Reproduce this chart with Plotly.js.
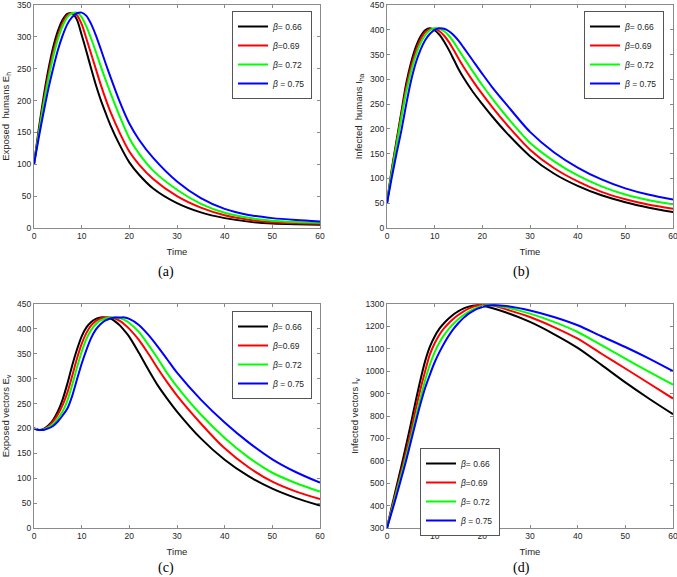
<!DOCTYPE html>
<html>
<head>
<meta charset="utf-8">
<script src="https://cdn.plot.ly/plotly-3.0.1.min.js"></script>
<style>
  html, body { margin: 0; padding: 0; background: #ffffff; }
  #chart { width: 677px; height: 577px; }
</style>
</head>
<body>
<div id="chart"></div>
<script>
// ---------- data ----------
const seriesLabels = ["<i>β</i>= 0.66", "<i>β</i>=0.69", "<i>β</i>= 0.72", "<i>β</i> = 0.75"];
const seriesColors = ["#000000", "#ff0000", "#00ff00", "#0000ff"];
const xTickVals = [0, 10, 20, 30, 40, 50, 60];

// (a) Exposed humans E_h
const tA = [0,1,2,3,4,5,6,7,8,9,10,11,12,13,14,15,16,18,20,22,25,30,35,40,45,50,55,60];
const ehA066 = [100,155,205,248,283,309,327,336,337,327,303,277,250,224,201,181,162,130,103,84,62,39,24.5,15.5,10,7,5.8,5.2];
const ehA069 = [100,150,198,240,275,302,322,334,338,334,320,297,273,249,225,203,183,149,120,100,77,50,32,20,13,9,7.5,6.7];
const ehA072 = [100,148,193,233,268,296,317,331,337,338,331,316,297,276,254,233,213,175,141,117,90,60,38,24,16,11.5,9.5,8.3];
const ehA075 = [100,142,181,218,250,279,302,320,331,337,338,333,320,302,281,259,238,198,164,139,110,73,47,30,20.5,15.5,12.5,10.3];

// (b) Infected humans I_ha
const tB = [0,1,2,3,4,5,6,7,8,9,10,11,12,13,14,15,16,18,20,22,25,30,35,40,45,50,55,60];
const ihB066 = [50,118,176,233,290,332,364,386,399,403,399,390,376,359,340,321,304,275,250,226,193,145,110,85,66,52,41,32];
const ihB069 = [50,115,172,228,282,324,356,380,395,401,402,397,388,375,359,342,326,297,270,245,210,158,121,94,73,58,47,39];
const ihB072 = [50,112,167,222,273,314,347,372,389,399,403,402,397,388,375,360,345,316,288,262,226,172,135,106,84,67.5,56,47.7];
const ihB075 = [50,102,150,196,248,295,332,359,379,392,400,403,402,397,389,378,365,338,311,285,250,194,153,122,98,80,67,57.6];

// (c) Exposed vectors E_v
const tC = [0,1,2,3,4,5,6,7,8,9,10,11,12,13,14,15,16,17,18,19,20,22,24,26,28,30,35,40,45,50,55,60];
const evC066 = [200,197,199,206,217,234,258,290,326,358,385,403,414,420,423,423,421,415,407,396,384,352,318,286,259,234,180,137,104,79,60,45];
const evC069 = [200,197,198,204,214,228,247,272,305,340,370,392,407,416,421,423,423,421,416,409,400,378,350,320,292,266,210,160,122,93,73,58];
const evC072 = [200,197,198,202,209,220,234,256,287,322,354,380,398,410,417,421,423,423,422,418,412,394,368,340,310,284,228,181,142,111,90,73];
const evC075 = [200,197,197,200,205,214,226,240,265,298,330,358,382,399,410,417,421,423,423,423,420,408,388,364,338,312,258,212,172,138,112,91];

// (d) Infected vectors I_v
const tD = [0,1,2,3,4,5,6,7,8,9,10,11,12,13,14,15,16,17,18,19,20,22,25,30,35,40,45,50,55,60];
const ivD066 = [300,395,485,575,668,765,865,960,1045,1110,1155,1190,1215,1236,1254,1268,1279,1287,1292,1294,1292,1282,1262,1220,1166,1104,1028,950,877,808];
const ivD069 = [300,388,470,553,640,730,828,918,1000,1075,1125,1163,1192,1215,1235,1252,1266,1278,1287,1293,1296,1294,1276,1242,1197,1145,1078,1012,945,878];
const ivD072 = [300,380,458,538,618,703,792,878,960,1030,1085,1128,1162,1190,1213,1233,1250,1264,1276,1285,1291,1296,1285,1257,1220,1175,1116,1056,997,940];
const ivD075 = [300,372,445,522,600,685,770,852,925,985,1040,1085,1125,1160,1190,1215,1237,1255,1268,1279,1287,1294,1291,1271,1242,1205,1156,1108,1056,1000];

// ---------- build traces ----------
const panels = [
  { t: tA, ys: [ehA066, ehA069, ehA072, ehA075], xa: "x",  ya: "y",  leg: "legend"  },
  { t: tB, ys: [ihB066, ihB069, ihB072, ihB075], xa: "x2", ya: "y2", leg: "legend2" },
  { t: tC, ys: [evC066, evC069, evC072, evC075], xa: "x3", ya: "y3", leg: "legend3" },
  { t: tD, ys: [ivD066, ivD069, ivD072, ivD075], xa: "x4", ya: "y4", leg: "legend4" }
];

const traces = [];
panels.forEach(p => {
  p.ys.forEach((y, i) => {
    traces.push({
      type: "scatter", mode: "lines",
      x: p.t, y: y,
      xaxis: p.xa, yaxis: p.ya,
      legend: p.leg,
      name: seriesLabels[i],
      line: { color: seriesColors[i], width: 2, shape: "spline", smoothing: 0.8 },
      hoverinfo: "skip"
    });
  });
});

// ---------- layout ----------
const W = 677, H = 577;
const font = "Arial, 'Liberation Sans', Helvetica, sans-serif";
const axColor = "#8a8a8a";

function xAx(x0, x1, anchor) {
  return {
    domain: [x0 / W, x1 / W], anchor: anchor,
    range: [0, 60], tickvals: xTickVals,
    showline: true, mirror: "ticks", linecolor: axColor, linewidth: 1,
    ticks: "inside", ticklen: 3, tickcolor: axColor,
    showgrid: false, zeroline: false, ticklabeloverflow: "allow",
    tickfont: { family: font, size: 8.5, color: "#262626" },
    title: { text: "Time", font: { family: font, size: 9.5, color: "#262626" }, standoff: 8 }
  };
}
function yAx(top, bottom, anchor, range, dtick, title) {
  return {
    domain: [1 - bottom / H, 1 - top / H], anchor: anchor,
    range: range, dtick: dtick, tick0: 0,
    showline: true, mirror: "ticks", linecolor: axColor, linewidth: 1,
    ticks: "inside", ticklen: 3, tickcolor: axColor,
    showgrid: false, zeroline: false, ticklabeloverflow: "allow",
    tickfont: { family: font, size: 8.5, color: "#262626" },
    title: { text: title, font: { family: font, size: 9.5, color: "#262626" }, standoff: 5 }
  };
}
function leg(xr, y, yanchor) {
  return {
    x: xr / W, y: y, xanchor: "right", yanchor: yanchor,
    bgcolor: "#ffffff", bordercolor: "#555555", borderwidth: 1,
    font: { family: font, size: 8.5, color: "#262626" },
    itemwidth: 30, tracegroupgap: 0
  };
}

const layout = {
  width: W, height: H,
  margin: { l: 0, r: 0, t: 0, b: 0 },
  paper_bgcolor: "#ffffff", plot_bgcolor: "#ffffff",
  showlegend: true,
  xaxis:  xAx(34, 320, "y"),
  yaxis:  yAx(5, 228, "x", [0, 350], 50, "Exposed\u00a0 humans E<sub>h</sub>"),
  xaxis2: xAx(387, 673, "y2"),
  yaxis2: yAx(5, 228, "x2", [0, 450], 50, "Infected\u00a0 humans I<sub>ha</sub>"),
  xaxis3: xAx(34, 320, "y3"),
  yaxis3: yAx(304, 528, "x3", [0, 450], 50, "Exposed vectors E<sub>v</sub>"),
  xaxis4: xAx(387, 673, "y4"),
  yaxis4: yAx(304, 528, "x4", [300, 1300], 100, "Infected vectors I<sub>v</sub>"),
  legend:  leg(312, 1 - 11 / H, "top"),
  legend2: leg(664, 1 - 11 / H, "top"),
  legend3: leg(312, 1 - 311 / H, "top"),
  legend4: leg(500, 1 - 492 / H, "middle"),
  annotations: [
    { text: "(a)", x: 166 / W, y: 1 - 272 / H },
    { text: "(b)", x: 521 / W, y: 1 - 272 / H },
    { text: "(c)", x: 166 / W, y: 1 - 568 / H },
    { text: "(d)", x: 521 / W, y: 1 - 568 / H }
  ].map(a => Object.assign(a, {
    xref: "paper", yref: "paper", showarrow: false,
    xanchor: "center", yanchor: "middle",
    font: { family: "'Liberation Serif', 'Times New Roman', serif", size: 14, color: "#000000" }
  }))
};

Plotly.newPlot("chart", traces, layout, { staticPlot: true, displayModeBar: false });
</script>
</body>
</html>
